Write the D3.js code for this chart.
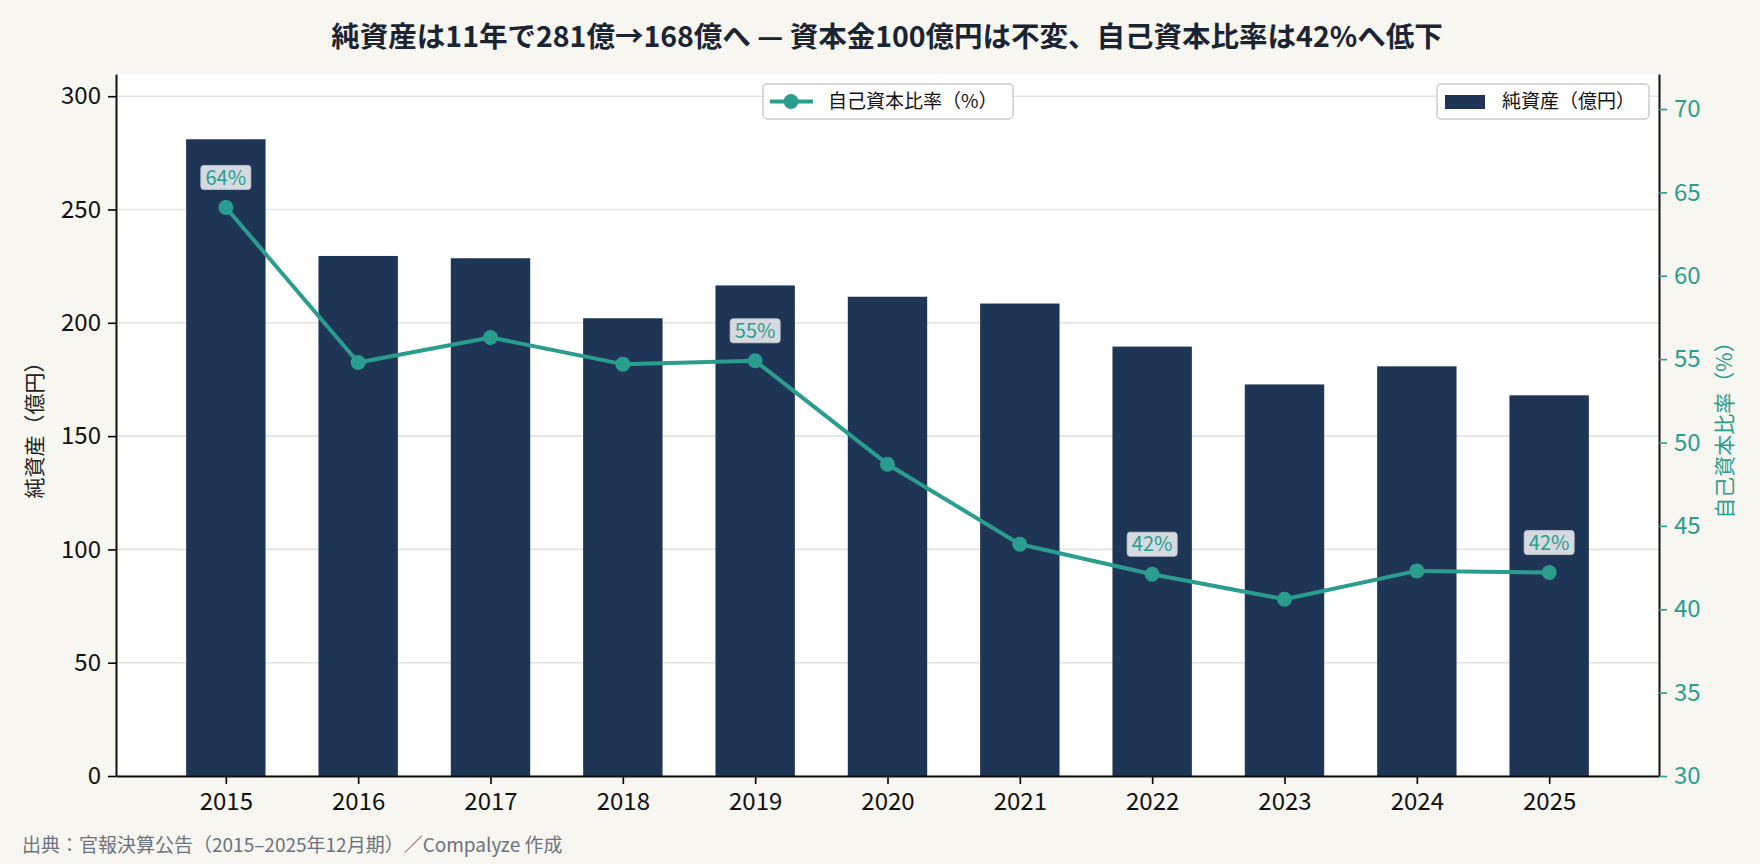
<!DOCTYPE html>
<html>
<head>
<meta charset="utf-8">
<script src="https://cdn.jsdelivr.net/npm/d3@7"></script>
<style>
  html, body { margin: 0; padding: 0; background: #f8f6f0; }
  svg { display: block; font-family: "Noto Sans CJK JP", "Noto Sans", sans-serif; }
</style>
</head>
<body>
<svg id="vis_svg" width="1760" height="864"></svg>
<script>
// data
const years = [2015, 2016, 2017, 2018, 2019, 2020, 2021, 2022, 2023, 2024, 2025];
const netAssets = [281, 229.5, 228.5, 202, 216.5, 211.5, 208.5, 189.5, 172.8, 180.8, 168];
const equityRatio = [64.1, 54.8, 56.3, 54.7, 54.9, 48.7, 43.9, 42.1, 40.6, 42.3, 42.2];
const labelYears = [2015, 2019, 2022, 2025];
const leftTicks = [0, 50, 100, 150, 200, 250, 300];
const rightTicks = [30, 35, 40, 45, 50, 55, 60, 65, 70];

const title = '純資産は11年で281億→168億へ — 資本金100億円は不変、自己資本比率は42%へ低下';
const leftLabel = '純資産（億円）';
const rightLabel = '自己資本比率（%）';
const barLegend = '純資産（億円）';
const lineLegend = '自己資本比率（%）';
const source = '出典：官報決算公告（2015–2025年12月期）／Compalyze 作成';

const navy = '#1e3556';
const teal = '#2a9d8f';

const margin = { top: 74, bottom: 88, left: 116, right: 101 };
const svg = d3.select('#vis_svg');
const width = 1760;
const height = 864;
const plotW = width - margin.left - margin.right;
const plotH = height - margin.top - margin.bottom;

const data = years.map((y, i) => ({ year: y, net: netAssets[i], ratio: equityRatio[i] }));

const xScale = d3.scaleLinear().domain([2014.17, 2025.83]).range([margin.left, margin.left + plotW]);
const yLeft = d3.scaleLinear().domain([0, 309.8]).range([margin.top + plotH, margin.top]);
const yRight = d3.scaleLinear().domain([30, 72.1]).range([margin.top + plotH, margin.top]);
const step = xScale(2016) - xScale(2015);
const barW = step * 0.6;

// plot background
svg.append('rect')
  .attr('x', margin.left).attr('y', margin.top)
  .attr('width', plotW).attr('height', plotH)
  .attr('fill', '#ffffff');

// grid
svg.append('g')
  .selectAll('line')
  .data(leftTicks)
  .enter()
  .append('line')
  .attr('x1', margin.left).attr('x2', margin.left + plotW)
  .attr('y1', (d) => yLeft(d)).attr('y2', (d) => yLeft(d))
  .attr('stroke', '#e2e2e2')
  .attr('stroke-width', 1.6);

// bars
svg.append('g')
  .selectAll('rect')
  .data(data)
  .enter()
  .append('rect')
  .attr('x', (d) => xScale(d.year) - barW / 2)
  .attr('width', barW)
  .attr('y', (d) => yLeft(d.net))
  .attr('height', (d) => yLeft(0) - yLeft(d.net))
  .attr('fill', navy);

// line
const line = d3.line().x((d) => xScale(d.year)).y((d) => yRight(d.ratio));
svg.append('path')
  .datum(data)
  .attr('d', line)
  .attr('fill', 'none')
  .attr('stroke', teal)
  .attr('stroke-width', 4)
  .attr('stroke-linejoin', 'round');

svg.append('g')
  .selectAll('circle')
  .data(data)
  .enter()
  .append('circle')
  .attr('cx', (d) => xScale(d.year))
  .attr('cy', (d) => yRight(d.ratio))
  .attr('r', 7.5)
  .attr('fill', teal);

// value labels
const lab = svg.append('g')
  .selectAll('g')
  .data(data.filter((d) => labelYears.includes(d.year)))
  .enter()
  .append('g')
  .attr('transform', (d) => `translate(${xScale(d.year)},${yRight(d.ratio) - 30})`);
lab.append('rect')
  .attr('x', -25).attr('y', -12)
  .attr('width', 50).attr('height', 24)
  .attr('rx', 3)
  .attr('fill', '#dfe3e8')
  .attr('fill-opacity', 0.95)
  .attr('stroke', '#c9ced6')
  .attr('stroke-width', 0.8);
lab.append('text')
  .attr('text-anchor', 'middle')
  .attr('dy', '0.36em')
  .attr('font-size', 20)
  .attr('fill', teal)
  .text((d) => Math.round(d.ratio) + '%');

// axes
const gx = svg.append('g')
  .attr('transform', `translate(0,${margin.top + plotH})`)
  .call(d3.axisBottom(xScale).tickValues(years).tickFormat(d3.format('d')).tickSize(8).tickPadding(9).tickSizeOuter(0));
gx.selectAll('text').attr('font-size', 24).attr('fill', '#111');

const gl = svg.append('g')
  .attr('transform', `translate(${margin.left},0)`)
  .call(d3.axisLeft(yLeft).tickValues(leftTicks).tickSize(8).tickPadding(7).tickSizeOuter(0));
gl.selectAll('text').attr('font-size', 24).attr('fill', '#111');

const gr = svg.append('g')
  .attr('transform', `translate(${margin.left + plotW},0)`)
  .call(d3.axisRight(yRight).tickValues(rightTicks).tickSize(8).tickPadding(7).tickSizeOuter(0));
gr.selectAll('text').attr('font-size', 24).attr('fill', teal);
gr.selectAll('.tick line').attr('stroke', teal);

[gx, gl, gr].forEach((g) => {
  g.attr('font-family', null).attr('font-size', null);
  g.select('.domain').attr('stroke', '#111').attr('stroke-width', 2);
  g.selectAll('.tick line').attr('stroke-width', 1.6);
});

// axis titles
svg.append('text')
  .attr('transform', `translate(35,${margin.top + plotH / 2}) rotate(-90)`)
  .attr('text-anchor', 'middle')
  .attr('dy', '0.35em')
  .attr('font-size', 21)
  .attr('fill', '#222')
  .text(leftLabel);

svg.append('text')
  .attr('transform', `translate(1725,${margin.top + plotH / 2}) rotate(-90)`)
  .attr('text-anchor', 'middle')
  .attr('dy', '0.35em')
  .attr('font-size', 21)
  .attr('fill', teal)
  .text(rightLabel);

// title
svg.append('text')
  .attr('x', 887)
  .attr('y', 37)
  .attr('text-anchor', 'middle')
  .attr('dy', '0.35em')
  .attr('font-size', 28.5)
  .attr('font-weight', 'bold')
  .attr('fill', '#1a2433')
  .text(title);

// legends
const legLine = svg.append('g').attr('transform', 'translate(763,84)');
legLine.append('rect')
  .attr('width', 250).attr('height', 35).attr('rx', 4)
  .attr('fill', '#fff').attr('stroke', '#cccccc').attr('stroke-width', 1.5);
legLine.append('line')
  .attr('x1', 7).attr('x2', 50).attr('y1', 17.5).attr('y2', 17.5)
  .attr('stroke', teal).attr('stroke-width', 4);
legLine.append('circle')
  .attr('cx', 28).attr('cy', 17.5).attr('r', 7.5).attr('fill', teal);
legLine.append('text')
  .attr('x', 65).attr('y', 17.5).attr('dy', '0.35em')
  .attr('font-size', 19).attr('fill', '#111')
  .text(lineLegend);

const legBar = svg.append('g').attr('transform', 'translate(1437,84)');
legBar.append('rect')
  .attr('width', 212).attr('height', 35).attr('rx', 4)
  .attr('fill', '#fff').attr('stroke', '#cccccc').attr('stroke-width', 1.5);
legBar.append('rect')
  .attr('x', 8).attr('y', 11).attr('width', 40).attr('height', 14)
  .attr('fill', navy);
legBar.append('text')
  .attr('x', 65).attr('y', 17.5).attr('dy', '0.35em')
  .attr('font-size', 19).attr('fill', '#111')
  .text(barLegend);

// source note
svg.append('text')
  .attr('x', 22)
  .attr('y', 845)
  .attr('dy', '0.35em')
  .attr('font-size', 19)
  .attr('fill', '#6b7280')
  .text(source);
</script>
</body>
</html>
